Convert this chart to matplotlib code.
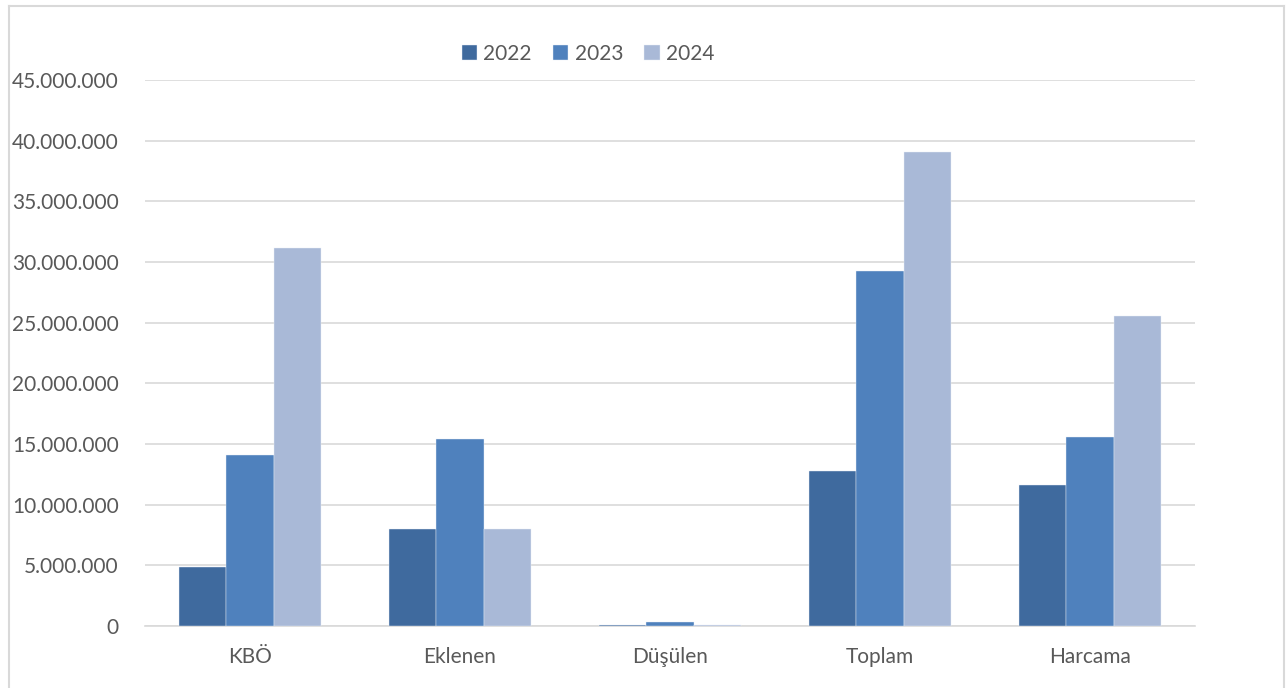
import numpy as np
import matplotlib.pyplot as plt
from matplotlib.lines import Line2D
from matplotlib.ticker import FuncFormatter

plt.rcParams['font.family'] = ['Lato', 'DejaVu Sans']

# Data
categories = ['KBÖ', 'Eklenen', 'Düşülen', 'Toplam', 'Harcama']
years = ['2022', '2023', '2024']
v2022 = [4860000, 8000000, 100000, 12780000, 11620000]
v2023 = [14100000, 15400000, 330000, 29270000, 15580000]
v2024 = [31160000, 8000000, 80000, 39080000, 25560000]
colors = ['#3F6A9E', '#4F81BD', '#A9B9D7']

fig = plt.figure(figsize=(12.87, 6.88), dpi=100)
ax = fig.add_axes([145 / 1287, 1 - 626 / 688, 1050 / 1287, 546 / 688])

x = np.arange(len(categories))
w = 0.224
for i, (vals, lab) in enumerate(zip([v2022, v2023, v2024], years)):
    ax.bar(x + (i - 1) * w, vals, w, color=colors[i], label=lab,
           edgecolor='#E8EEF6', linewidth=0.3, zorder=3)

ax.set_xlim(-0.5, len(categories) - 0.5)
ax.set_ylim(0, 45000000)
ax.set_yticks(np.arange(0, 45000001, 5000000))
ax.yaxis.set_major_formatter(FuncFormatter(lambda v, p: f'{int(v):,}'.replace(',', '.')))
ax.set_xticks(x)
ax.set_xticklabels(categories)
ax.tick_params(axis='both', length=0, labelsize=15, labelcolor='#595959')
ax.tick_params(axis='y', pad=19)
ax.tick_params(axis='x', pad=15)
ax.grid(axis='y', color='#D9D9D9', linewidth=1.2, zorder=0)
for s in ['top', 'right', 'left']:
    ax.spines[s].set_visible(False)
ax.spines['bottom'].set_color('#D9D9D9')
ax.spines['bottom'].set_linewidth(1.2)

ax.legend(loc='center', bbox_to_anchor=(588 / 1287, 1 - 54 / 688),
          bbox_transform=fig.transFigure, ncol=3, frameon=False,
          fontsize=15, labelcolor='#595959', handlelength=0.75,
          handleheight=0.75, handletextpad=0.3, columnspacing=1.0)

# chart border
bc = '#D9D9D9'
l, r, t = 8.5 / 1287, 1283.5 / 1287, 1 - 5.5 / 688
fig.add_artist(Line2D([l, l], [0, t], color=bc, lw=1.5, transform=fig.transFigure))
fig.add_artist(Line2D([r, r], [0, t], color=bc, lw=1.5, transform=fig.transFigure))
fig.add_artist(Line2D([l, r], [t, t], color=bc, lw=1.5, transform=fig.transFigure))

fig.savefig('out.png', dpi=100)
